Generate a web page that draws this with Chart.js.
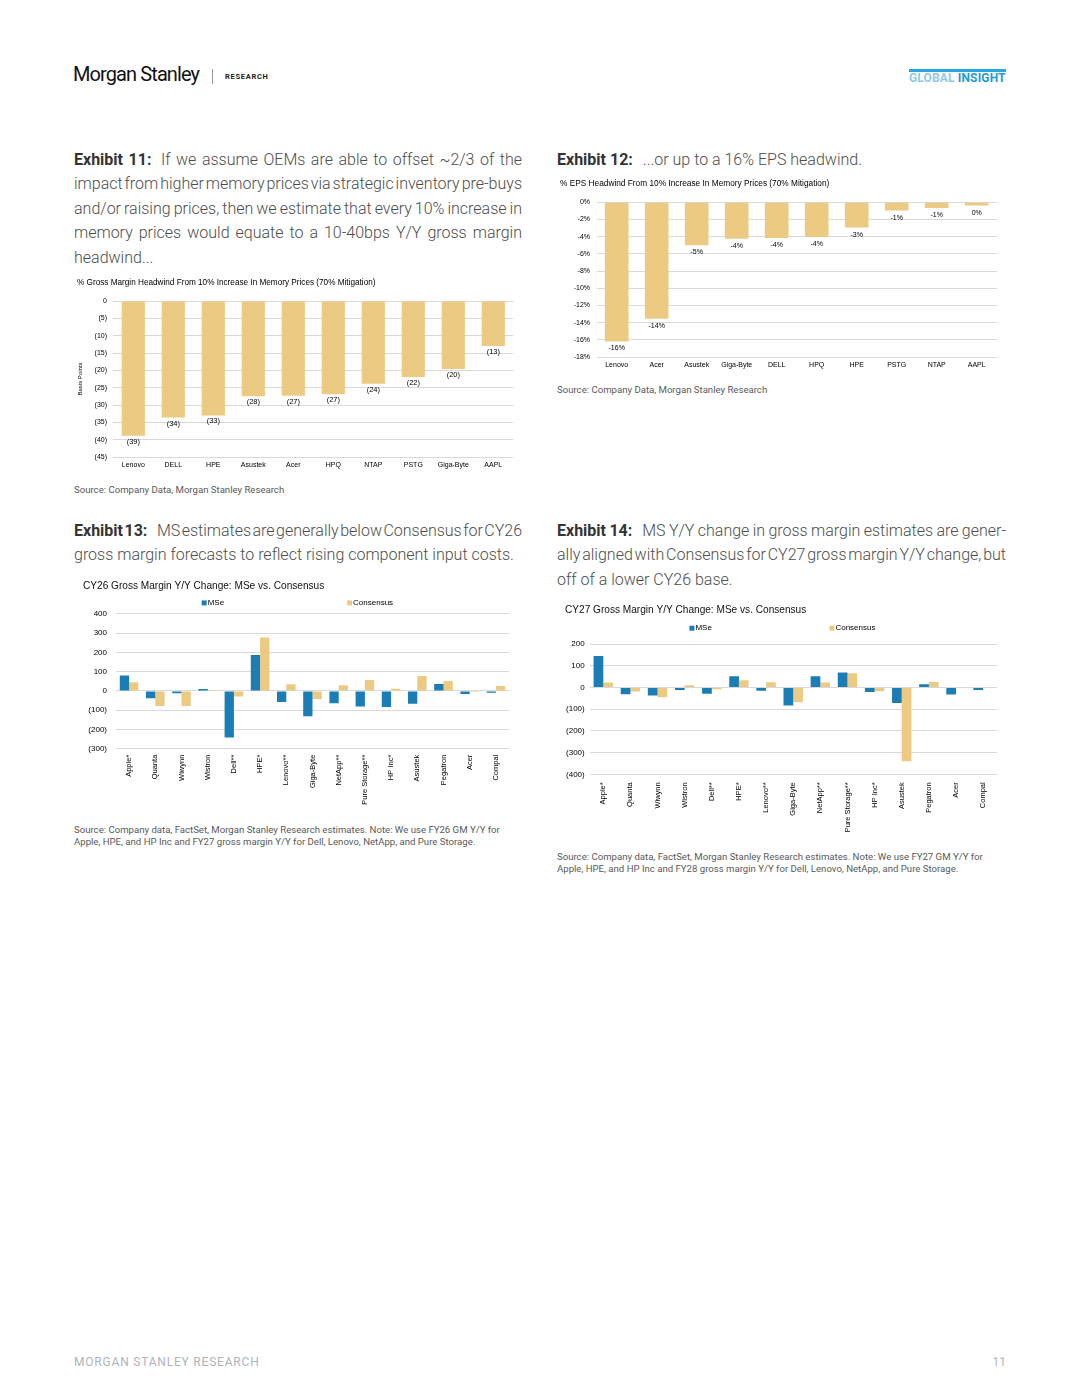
<!DOCTYPE html>
<html>
<head>
<meta charset="utf-8">
<script src="https://cdn.jsdelivr.net/npm/chart.js@4.4.1/dist/chart.umd.min.js"></script>
<style>
  html, body { margin: 0; padding: 0; background: #fff; }
  body { width: 1080px; height: 1398px; position: relative; overflow: hidden; font-family: Roboto, 'Liberation Sans', sans-serif; }
  .abs { position: absolute; white-space: nowrap; }
  .para { position: absolute; font-size: 16px; font-weight: 300; color: #4d4d4d; line-height: 24.6px; }
  .para div { white-space: nowrap; height: 24.6px; }
  .para b { font-weight: 700; color: #333; }
  .para i { display: inline-block; width: 9.5px; }
  .src { position: absolute; font-size: 9.6px; color: #5a5a5a; line-height: 12px; white-space: nowrap; }
  canvas { position: absolute; }
</style>
</head>
<body>

<!-- header -->
<div class="abs" style="left:73px;top:62px;font-size:20px;letter-spacing:-0.9px;color:#111;">Morgan Stanley</div>
<div class="abs" style="left:212px;top:69px;width:1px;height:15px;background:#999;"></div>
<div class="abs" style="left:225px;top:72px;font-size:7.5px;font-weight:700;letter-spacing:0.7px;color:#222;">RESEARCH</div>
<div class="abs" style="left:909px;top:69px;width:97px;height:2.5px;background:#2aa7df;"></div>
<div class="abs" style="left:909px;top:71px;font-size:12px;font-weight:700;letter-spacing:0.15px;"><span style="color:#8ecae9;">GLOBAL</span> <span style="color:#1d9bd7;">INSIGHT</span></div>

<!-- exhibit 11 text -->
<div class="para" style="left:74px;top:147.7px;width:448px;">
  <div class="j"><span><b>Exhibit 11:</b><i></i>If we assume OEMs are able to offset ~2/3 of the</span></div>
  <div class="j"><span>impact from higher memory prices via strategic inventory pre-buys</span></div>
  <div class="j"><span>and/or raising prices, then we estimate that every 10% increase in</span></div>
  <div class="j"><span>memory prices would equate to a 10-40bps Y/Y gross margin</span></div>
  <div><span>headwind...</span></div>
</div>

<!-- exhibit 12 text -->
<div class="para" style="left:557px;top:147.7px;width:449px;">
  <div><span><b>Exhibit 12:</b><i style="width:10px"></i>...or up to a 16% EPS headwind.</span></div>
</div>

<!-- exhibit 13 text -->
<div class="para" style="left:74px;top:518.7px;width:448px;">
  <div class="j"><span><b>Exhibit 13:</b><i></i>MS estimates are generally below Consensus for CY26</span></div>
  <div><span>gross margin forecasts to reflect rising component input costs.</span></div>
</div>

<!-- exhibit 14 text -->
<div class="para" style="left:557px;top:518.7px;width:449px;">
  <div class="j"><span><b>Exhibit 14:</b><i style="width:10px"></i>MS Y/Y change in gross margin estimates are gener-</span></div>
  <div class="j"><span>ally aligned with Consensus for CY27 gross margin Y/Y change, but</span></div>
  <div><span>off of a lower CY26 base.</span></div>
</div>

<canvas id="ex11" width="446" height="198" style="left:74px;top:276px;"></canvas>
<canvas id="ex12" width="445" height="197" style="left:557px;top:176px;"></canvas>
<canvas id="ex13" width="440" height="240" style="left:80px;top:578px;"></canvas>
<canvas id="ex14" width="445" height="242" style="left:558px;top:602px;"></canvas>

<!-- sources -->
<div class="src" style="left:74px;top:484px;">Source: Company Data, Morgan Stanley Research</div>
<div class="src" style="left:557px;top:384px;">Source: Company Data, Morgan Stanley Research</div>
<div class="src" style="left:74px;top:824px;">Source: Company data, FactSet, Morgan Stanley Research estimates. Note: We use FY26 GM Y/Y for<br>Apple, HPE, and HP Inc and FY27 gross margin Y/Y for Dell, Lenovo, NetApp, and Pure Storage.</div>
<div class="src" style="left:557px;top:851px;">Source: Company data, FactSet, Morgan Stanley Research estimates. Note: We use FY27 GM Y/Y for<br>Apple, HPE, and HP Inc and FY28 gross margin Y/Y for Dell, Lenovo, NetApp, and Pure Storage.</div>

<!-- footer -->
<div class="abs" style="left:74px;top:1355px;font-size:12px;letter-spacing:0.8px;color:#afb4b9;">MORGAN STANLEY RESEARCH</div>
<div class="abs" style="right:74px;top:1355px;font-size:12px;color:#afb4b9;">11</div>

<script>
// ---- data ----
const ex11Companies = ['Lenovo', 'DELL', 'HPE', 'Asustek', 'Acer', 'HPQ', 'NTAP', 'PSTG', 'Giga-Byte', 'AAPL'];
const ex11Headwind = [-38.9, -33.6, -33.0, -27.5, -27.3, -26.9, -23.9, -21.9, -19.6, -13.0];

const ex12Companies = ['Lenovo', 'Acer', 'Asustek', 'Giga-Byte', 'DELL', 'HPQ', 'HPE', 'PSTG', 'NTAP', 'AAPL'];
const ex12Headwind = [-16.2, -13.55, -5.0, -4.25, -4.15, -4.05, -2.95, -0.97, -0.66, -0.39];

const gmCompanies = ['Apple*', 'Quanta', 'Wiwynn', 'Wistron', 'Dell**', 'HPE*', 'Lenovo**', 'Giga-Byte',
  'NetApp**', 'Pure Storage**', 'HP Inc*', 'Asustek', 'Pegatron', 'Acer', 'Compal'];
const cy26MSe = [80, -38, -12, 10, -242, 187, -57, -132, -64, -81, -83, -66, 36, -16, -10];
const cy26Consensus = [45, -78, -78, 5, -29, 277, 35, -42, 29, 57, 12, 78, 52, -5, 26];
const cy27MSe = [146, -31, -37, -11, -28, 52, -15, -83, 52, 69, -20, -71, 15, -32, -11];
const cy27Consensus = [23, -18, -45, 11, -8, 34, 25, -68, 23, 66, -17, -340, 26, -1, -2];

const seriesNames = ['MSe', 'Consensus'];

// ---- colours ----
const GOLD = '#ecca82';
const BLUE = '#1a7db5';
const GRID = '#d9d9d9';

Chart.defaults.font.family = "'Liberation Sans', Arial, sans-serif";
Chart.defaults.color = '#000';
Chart.defaults.animation = false;

// fix axis sizes so the plot area lands where the original has it
const fixWidth = w => scale => { scale.width = w; };
const fixHeight = h => scale => { scale.height = h; };

const paren = v => (v < 0 ? '(' + Math.abs(v) + ')' : String(v));

// value labels under single-series bars
function barLabels(format, offset, size) {
  return {
    id: 'barLabels',
    afterDatasetsDraw(chart) {
      const ctx = chart.ctx;
      ctx.save();
      ctx.font = size + "px 'Liberation Sans', Arial, sans-serif";
      ctx.fillStyle = '#000';
      ctx.textAlign = 'center';
      ctx.textBaseline = 'middle';
      const values = chart.data.datasets[0].data;
      chart.getDatasetMeta(0).data.forEach((bar, i) => {
        ctx.fillText(format(values[i]), bar.x, bar.y + offset);
      });
      ctx.restore();
    }
  };
}

// widely spaced legend row like the Excel original
function pairLegend(fracs, dy) {
  return {
    id: 'pairLegend',
    afterDraw(chart) {
      const { ctx, chartArea } = chart;
      ctx.save();
      ctx.font = "8px 'Liberation Sans', Arial, sans-serif";
      ctx.textBaseline = 'middle';
      chart.data.datasets.forEach((ds, i) => {
        const x = chartArea.left + fracs[i] * (chartArea.right - chartArea.left);
        const y = chartArea.top + dy;
        ctx.fillStyle = ds.backgroundColor;
        ctx.fillRect(x, y - 2.5, 5, 5);
        ctx.fillStyle = '#000';
        ctx.fillText(ds.label, x + 6, y);
      });
      ctx.restore();
    }
  };
}

/**
 * Exhibit 11 — gross margin headwind, bps
 */
new Chart(document.getElementById('ex11'), {
  type: 'bar',
  data: {
    labels: ex11Companies,
    datasets: [{ data: ex11Headwind, backgroundColor: GOLD, categoryPercentage: 1, barPercentage: 0.58 }]
  },
  options: {
    responsive: false,
    layout: { padding: { left: 3, right: 6.7, top: 0, bottom: 0 } },
    plugins: {
      legend: { display: false },
      tooltip: { enabled: false },
      title: {
        display: true, align: 'start',
        text: '% Gross Margin Headwind From 10% Increase In Memory Prices (70% Mitigation)',
        font: { size: 8.2, weight: 'normal' }, color: '#000',
        padding: { top: 2, bottom: 13.2 }
      }
    },
    scales: {
      y: {
        min: -45, max: 0,
        afterFit: fixWidth(36.3),
        ticks: { stepSize: 5, padding: 6.3, font: { size: 7 }, callback: v => paren(v) },
        grid: { color: GRID, drawTicks: false },
        border: { display: false },
        title: { display: true, text: 'Basis Points', font: { size: 6 }, padding: 0 }
      },
      x: {
        afterFit: fixHeight(17),
        ticks: { maxRotation: 0, autoSkip: false, padding: 4, font: { size: 7 } },
        grid: { display: false, drawTicks: false },
        border: { display: false }
      }
    }
  },
  plugins: [barLabels(v => '(' + Math.round(Math.abs(v)) + ')', 6, 7.5)]
});

/**
 * Exhibit 12 — EPS headwind, %
 */
new Chart(document.getElementById('ex12'), {
  type: 'bar',
  data: {
    labels: ex12Companies,
    datasets: [{ data: ex12Headwind, backgroundColor: GOLD, categoryPercentage: 1, barPercentage: 0.59 }]
  },
  options: {
    responsive: false,
    layout: { padding: { left: 3, right: 5.3, top: 0, bottom: 0 } },
    plugins: {
      legend: { display: false },
      tooltip: { enabled: false },
      title: {
        display: true, align: 'start',
        text: '% EPS Headwind From 10% Increase In Memory Prices (70% Mitigation)',
        font: { size: 8.3, weight: 'normal' }, color: '#000',
        padding: { top: 3, bottom: 13.3 }
      }
    },
    scales: {
      y: {
        min: -18, max: 0,
        afterFit: fixWidth(36.7),
        ticks: { stepSize: 2, padding: 6.7, font: { size: 7 }, callback: v => v + '%' },
        grid: { color: GRID, drawTicks: false },
        border: { display: false }
      },
      x: {
        afterFit: fixHeight(16),
        ticks: { maxRotation: 0, autoSkip: false, padding: 4, font: { size: 7 } },
        grid: { display: false, drawTicks: false },
        border: { display: false }
      }
    }
  },
  plugins: [barLabels(v => `${Math.round(v)}%`, 7, 7)]
});

/**
 * Exhibits 13 and 14 — MSe vs Consensus grouped bars
 */
function renderGmChart(id, title, mse, cons, range, geo) {
  new Chart(document.getElementById(id), {
    type: 'bar',
    data: {
      labels: gmCompanies,
      datasets: [
        { label: seriesNames[0], data: mse, backgroundColor: BLUE, categoryPercentage: geo.cat, barPercentage: 1 },
        { label: seriesNames[1], data: cons, backgroundColor: GOLD, categoryPercentage: geo.cat, barPercentage: 1 }
      ]
    },
    options: {
      responsive: false,
      layout: { padding: { left: geo.left, right: geo.right, top: 0, bottom: 0 } },
      plugins: {
        legend: { display: false },
        tooltip: { enabled: false },
        title: {
          display: true, align: 'start', text: title,
          font: { size: 10.1, weight: 'normal' }, color: '#111',
          padding: { top: 2, bottom: geo.titleGap }
        }
      },
      scales: {
        y: {
          min: range[0], max: range[1],
          afterFit: fixWidth(geo.yWidth),
          ticks: { stepSize: 100, padding: geo.yPad, font: { size: 8 }, callback: v => paren(v) },
          grid: { color: GRID, drawTicks: false },
          border: { display: false }
        },
        x: {
          afterFit: fixHeight(geo.xHeight),
          ticks: { minRotation: 90, maxRotation: 90, autoSkip: false, padding: geo.xPad, font: { size: 7.5 } },
          grid: { display: false, drawTicks: false },
          border: { display: false }
        }
      }
    },
    plugins: [pairLegend(geo.legend, geo.legendDy)]
  });
}

renderGmChart('ex13', 'CY26 Gross Margin Y/Y Change: MSe vs. Consensus', cy26MSe, cy26Consensus, [-300, 400],
  { cat: 0.71, left: 3, right: 11, titleGap: 21.8, yWidth: 33, yPad: 9, xHeight: 69.3, xPad: 6, legend: [0.218, 0.588], legendDy: -11 });

renderGmChart('ex14', 'CY27 Gross Margin Y/Y Change: MSe vs. Consensus', cy27MSe, cy27Consensus, [-400, 200],
  { cat: 0.715, left: 7, right: 6.3, titleGap: 28.1, yWidth: 24.7, yPad: 5, xHeight: 69.7, xPad: 8, legend: [0.245, 0.589], legendDy: -16 });

// justify the paragraph lines the way the PDF does (spaces stretch or squeeze)
function justifyLines() {
  document.querySelectorAll('.j').forEach(el => {
    const span = el.firstElementChild;
    span.style.wordSpacing = '0px';
    const natural = span.getBoundingClientRect().width;
    const gaps = (span.textContent.trim().match(/[ \u00a0]+/g) || []).length;
    const target = el.getBoundingClientRect().width;
    if (gaps) span.style.wordSpacing = ((target - natural) / gaps) + 'px';
  });
}
justifyLines();
if (document.fonts) document.fonts.ready.then(justifyLines);
</script>
</body>
</html>
